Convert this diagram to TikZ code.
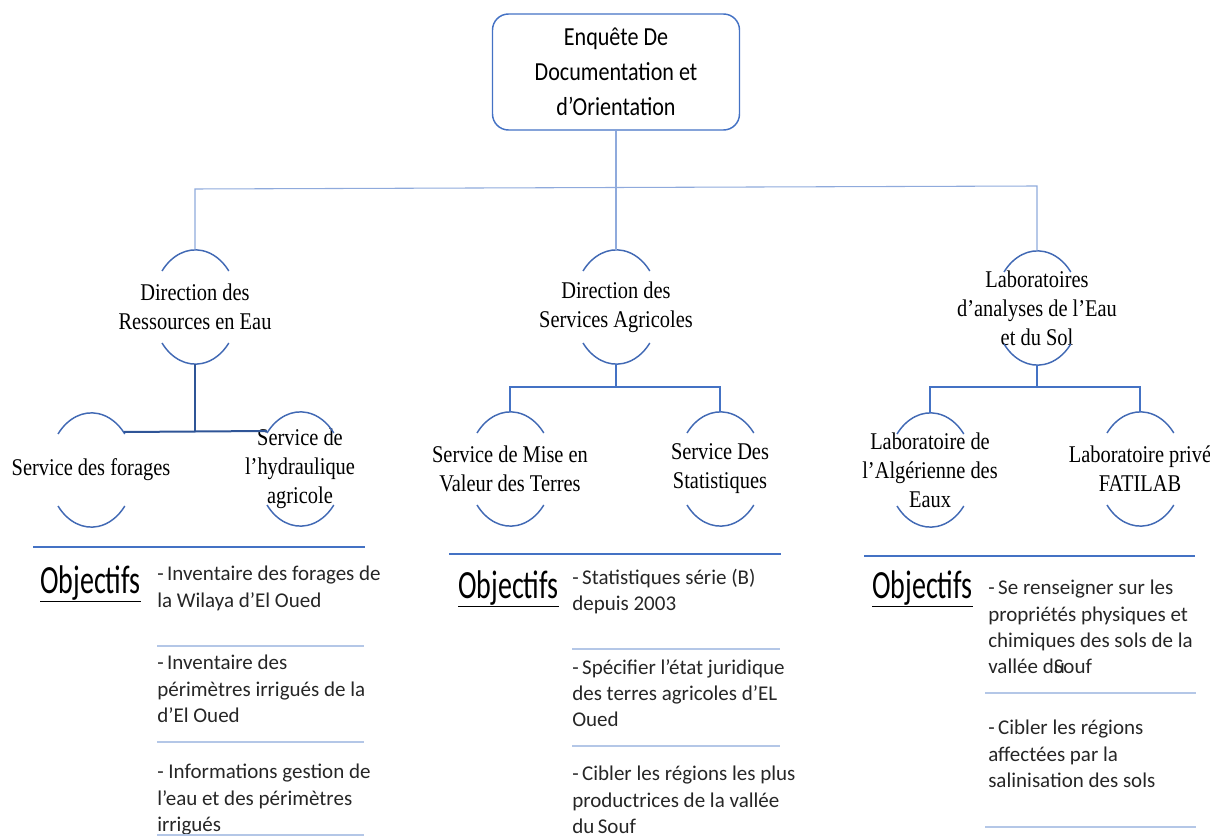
\documentclass[tikz,border=0pt]{standalone}
\usepackage{fontspec}
\usepackage{tikz}
\setmainfont{Liberation Serif}
\newfontfamily\boxfont[FakeStretch=0.85]{Carlito}
\newfontfamily\itemfont{Carlito}
\newfontfamily\objfont{Carlito}
\newfontfamily\labfont[FakeStretch=0.85]{Liberation Serif}

\definecolor{arcblue}{RGB}{65,105,180}
\definecolor{busblue}{RGB}{143,170,220}
\definecolor{grpblue}{RGB}{68,114,196}
\definecolor{deepblue}{RGB}{47,85,151}
\definecolor{sepblue}{RGB}{180,199,231}

% top and bottom arcs round a unit
\newcommand{\unitarcs}[1]{%
  \draw [arcline] ([shift={(-33,-36)}]#1.center) arc [start angle=219, end angle=321, x radius=43, y radius=57];
  \draw [arcline] ([shift={(-33,36)}]#1.center) arc [start angle=141, end angle=39, x radius=43, y radius=57];
}

\begin{document}
\begin{tikzpicture}[x=0.75pt,y=0.75pt,yscale=-1,xscale=1,
  topbox/.style={draw=grpblue, line width=1.1pt, rounded corners=12pt, minimum width=185.25pt, minimum height=87pt, inner sep=0pt, align=center, font=\boxfont\fontsize{19.5}{26.25}\selectfont},
  unit/.style={inner sep=0pt, minimum width=64.5pt, minimum height=85.5pt, align=center, font=\labfont\fontsize{18}{21.75}\selectfont},
  item/.style={anchor=north west, inner sep=0pt, align=left, text=black!85, font=\itemfont\fontsize{15.75}{19.75}\selectfont},
  objtitle/.style={anchor=base west, inner sep=0pt, xscale=0.7, font=\objfont\fontsize{30}{30}\selectfont},
  arcline/.style={draw=arcblue, line width=1.1pt},
  busline/.style={draw=busblue, line width=0.8pt},
  grpline/.style={draw=grpblue, line width=1.1pt},
  grpthick/.style={draw=deepblue, line width=1.5pt},
  objline/.style={draw=grpblue, line width=1.1pt},
  sepline/.style={draw=sepblue, line width=1.1pt}]
\useasboundingbox (0,0) rectangle (1210,837);

% Top box
\node (enq) [topbox] at (616,72) {Enquête De\\Documentation et\\d’Orientation};

% Units, level 1
\node (dre) [unit] at (195,307) {Direction des\\Ressources en Eau};
\node (dsa) [unit] at (616,307) {Direction des\\Services Agricoles};
\node (lab) [unit] at (1037,308) {Laboratoires\\d’analyses de l’Eau\\et du Sol};

% Units, level 2
\node (sf) [unit] at (91,470) {Service des forages};
\node (sh) [unit] at (300,469) {Service de\\l’hydraulique\\agricole};
\node (smv) [unit] at (510,469) {Service de Mise en\\Valeur des Terres};
\node (sds) [unit] at (720,469) {Service Des\\Statistiques};
\node (lae) [unit] at (930,470) {Laboratoire de\\l’Algérienne des\\Eaux};
\node (lpf) [unit] at (1140,469) {Laboratoire privé\\FATILAB};

% Arcs
\foreach \u in {dre,dsa,lab,sf,sh,smv,sds,lae,lpf} {\unitarcs{\u}}

% Connectors
\coordinate (busl) at (195,189);
\coordinate (busr) at (1037,186);
\draw [busline] (enq.south) -- (dsa.north);
\draw [busline] (dre.north) -- (busl) -- (busr) -- (lab.north);

\draw [grpthick] (dre.south) -- (dre.south |- 0,432);
\draw [grpthick] ([shift={(33,-38)}]sf.center) -- ([shift={(-33,-38)}]sh.center);

\coordinate (dsab) at (616,387);
\draw [grpline] (dsa.south) -- (dsab);
\draw [grpline] (smv.north) |- (dsab) -| (sds.north);

\coordinate (labb) at (1037,387);
\draw [grpline] (lab.south) -- (labb);
\draw [grpline] (lae.north) |- (labb) -| (lpf.north);

% Objectifs, left
\draw [objline] (33,547) -- (365,547);
\node (objl) [objtitle] at (40,593) {\underline{Objectifs}};
\node (l1) [item] at (157,566) {-\,Inventaire des forages de\\la Wilaya d’El Oued};
\draw [sepline] (157,646) -- (364,646);
\node (l2) [item] at (157,655) {-\,Inventaire des\\périmètres irrigués de la\\d’El Oued};
\draw [sepline] (157,742) -- (364,742);
\node (l3) [item] at (157,764) {- Informations gestion de\\l’eau et des périmètres\\irrigués};
\draw [sepline] (157,835) -- (364,835);

% Objectifs, middle
\draw [objline] (449,554) -- (781,554);
\node (objm) [objtitle] at (458,598) {\underline{Objectifs}};
\node (m1) [item] at (572,569) {-\,Statistiques série (B)\\depuis 2003};
\draw [sepline] (572,649) -- (780,649);
\node (m2) [item] at (572,659) {-\,Spécifier l’état juridique\\des terres agricoles d’EL\\Oued};
\draw [sepline] (572,746) -- (780,746);
\node (m3) [item] at (572,766) {-\,Cibler les régions les plus\\productrices de la vallée\\du\,Souf};

% Objectifs, right
\draw [objline] (864,556) -- (1195,556);
\node (objr) [objtitle] at (872,598) {\underline{Objectifs}};
\node (r1) [item] at (988,580) {-\,Se renseigner sur les\\propriétés physiques et\\chimiques des sols de la\\vallée d\rlap{u}Souf};
\draw [sepline] (985,693) -- (1196,693);
\node (r2) [item] at (988,720) {-\,Cibler les régions\\affectées par la\\salinisation des sols};
\draw [sepline] (985,827) -- (1196,827);

\end{tikzpicture}
\end{document}
